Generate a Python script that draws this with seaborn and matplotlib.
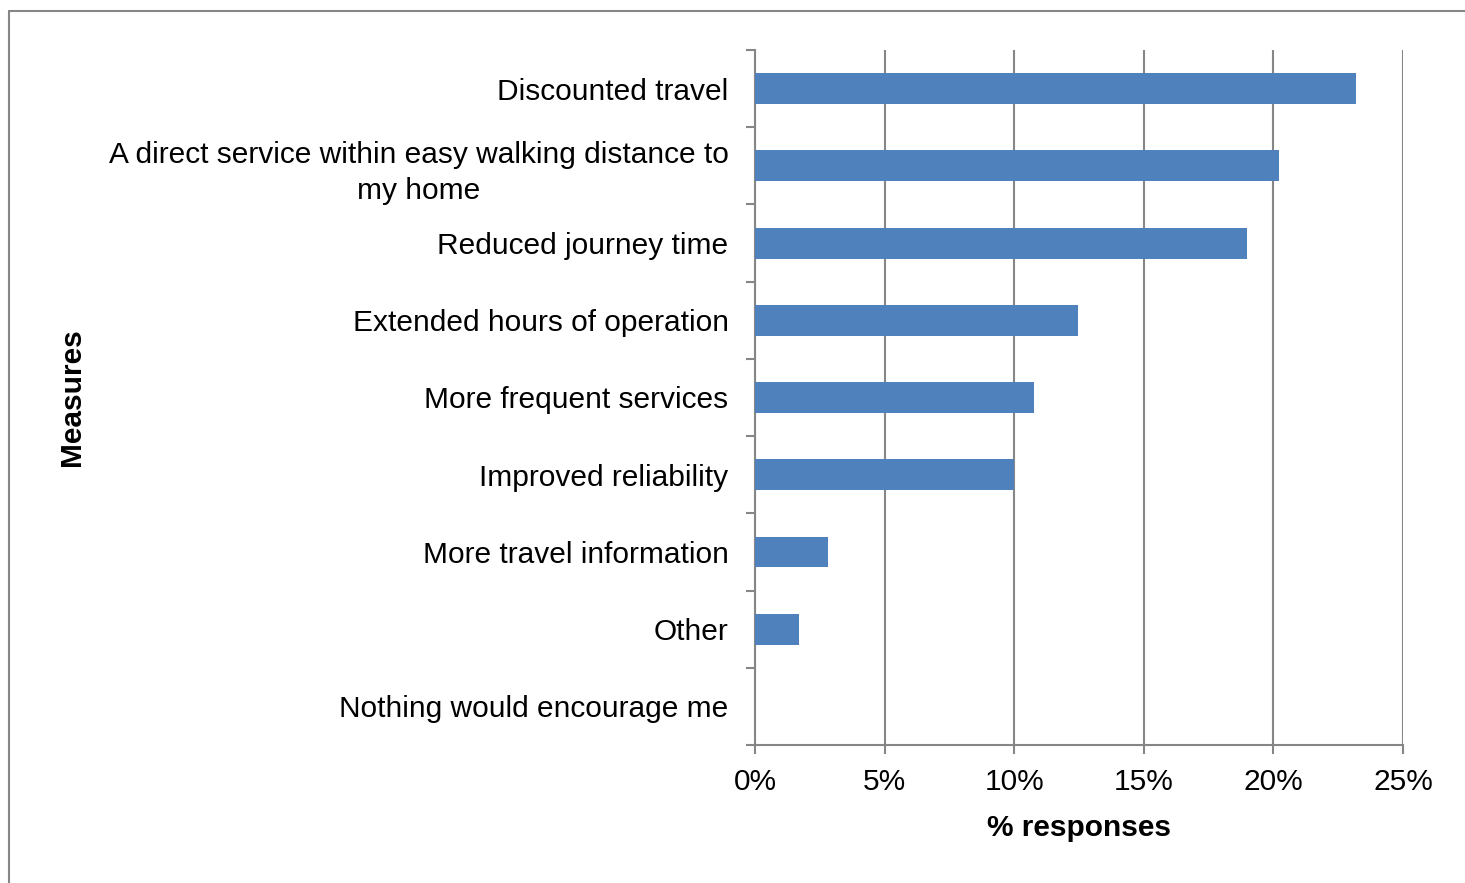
import numpy as np
import pandas as pd
import matplotlib
matplotlib.use("Agg")
import matplotlib.pyplot as plt
import seaborn as sns
from matplotlib.lines import Line2D
from matplotlib.ticker import FuncFormatter, FixedLocator

# data
measures = ["Discounted travel",
            "A direct service within easy walking distance to\nmy home",
            "Reduced journey time",
            "Extended hours of operation",
            "More frequent services",
            "Improved reliability",
            "More travel information",
            "Other",
            "Nothing would encourage me"]
pct = [23.2, 20.2, 19.0, 12.45, 10.75, 10.0, 2.8, 1.7, 0.0]
xticks = [0, 5, 10, 15, 20, 25]

df = pd.DataFrame({"Measures": measures, "pct": pct})

sns.set_style("white")
plt.rcParams['font.family'] = ['Liberation Sans', 'DejaVu Sans']
plt.rcParams['text.color'] = 'black'
plt.rcParams['axes.labelcolor'] = 'black'
plt.rcParams['xtick.labelcolor'] = 'black'
plt.rcParams['ytick.labelcolor'] = 'black'

fs = 21.5
grey = "#868686"
fig = plt.figure(figsize=(14.65, 8.83), dpi=100)
ax = fig.add_axes([755/1465, 1-745/883, 648/1465, 695/883])

sns.barplot(data=df, y="Measures", x="pct", color="#4F81BD", width=0.4,
            saturation=1, linewidth=0, ax=ax, zorder=3)

ax.set_xlim(0, 25)
ax.set_ylim(len(measures)-0.5, -0.5)
ax.xaxis.set_major_locator(FixedLocator(xticks))
ax.xaxis.set_major_formatter(FuncFormatter(lambda v, p: "%d%%" % v))
ax.grid(axis="x", color=grey, linewidth=1.5, zorder=0)
ax.set_axisbelow(True)

for s in ["top", "right"]:
    ax.spines[s].set_visible(False)
for s in ["left", "bottom"]:
    ax.spines[s].set_color(grey)
    ax.spines[s].set_linewidth(1.5)

# category boundary ticks on y
ax.yaxis.set_minor_locator(FixedLocator(np.arange(-0.5, len(measures), 1.0)))
ax.tick_params(axis="y", which="major", length=0, pad=19, labelsize=fs)
ax.tick_params(axis="y", which="minor", length=6.5, width=1.5, color=grey, left=True)
ax.tick_params(axis="x", which="major", length=6.5, width=1.5, color=grey,
               bottom=True, pad=10, labelsize=fs)
for t in ax.get_yticklabels():
    t.set_multialignment("center")
    t.set_linespacing(1.35)

ax.set_xlabel("% responses", fontsize=fs, fontweight="bold")
ax.set_ylabel("Measures", fontsize=fs, fontweight="bold")
ax.xaxis.set_label_coords(0.5, -0.119)
ax.xaxis.label.set_va("center")
ax.yaxis.set_label_coords((72-755)/648, 0.5)
ax.yaxis.label.set(va="center", ha="center")

# outer chart border (top and left visible)
fig.add_artist(Line2D([9/1465, 1.0], [1-11/883, 1-11/883], color=grey, linewidth=1.5,
                      transform=fig.transFigure))
fig.add_artist(Line2D([9/1465, 9/1465], [1-11/883, 0.0], color=grey, linewidth=1.5,
                      transform=fig.transFigure))

fig.savefig("out.png", dpi=100)
